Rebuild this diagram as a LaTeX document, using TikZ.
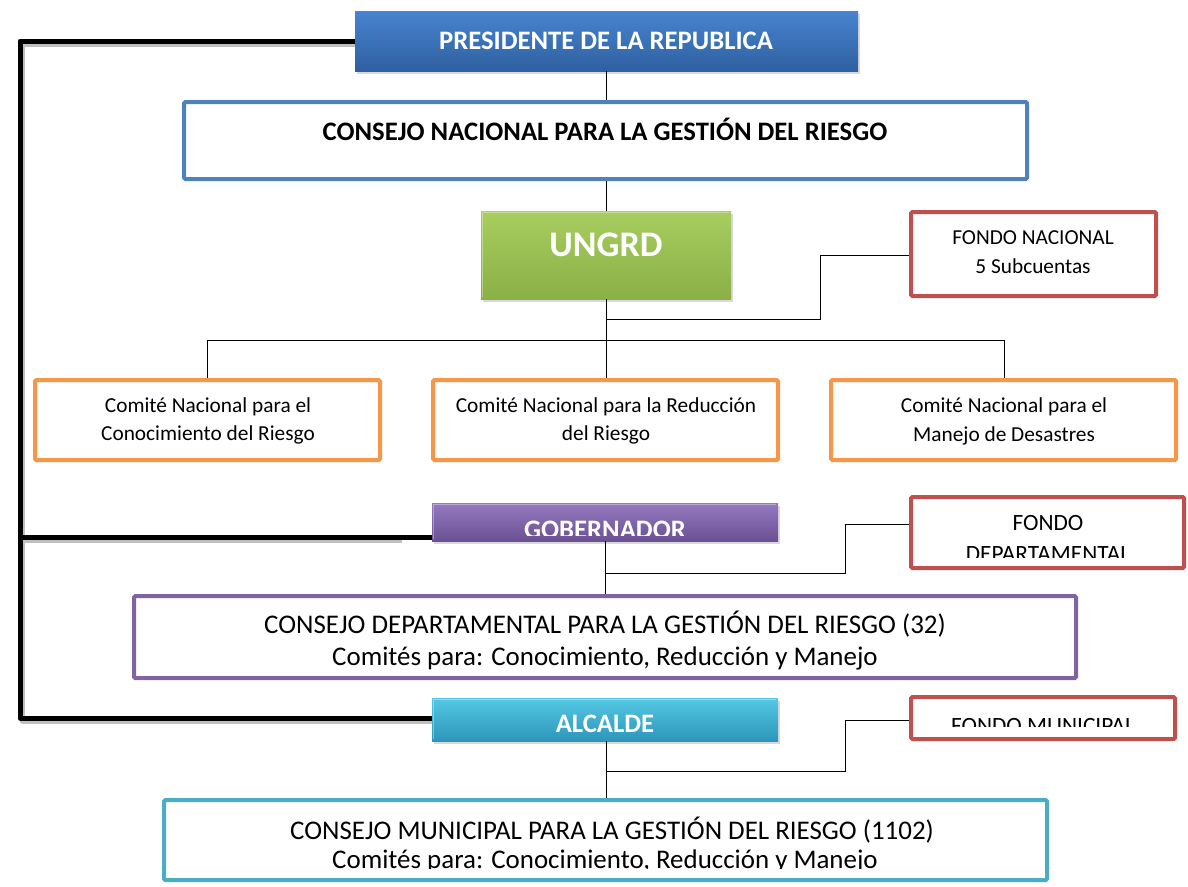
\documentclass[tikz,border=0pt]{standalone}
\usepackage{fontspec}
\setmainfont{Carlito}
\usetikzlibrary{shadows}
\definecolor{bluebd}{RGB}{79,129,189}
\definecolor{orangebd}{RGB}{247,150,70}
\definecolor{redbd}{RGB}{192,80,77}
\definecolor{purplebd}{RGB}{128,100,162}
\definecolor{cyanbd}{RGB}{75,172,198}
\definecolor{presTop}{RGB}{72,132,208}
\definecolor{presBot}{RGB}{46,96,160}
\definecolor{grnTop}{RGB}{168,206,96}
\definecolor{grnBot}{RGB}{138,176,70}
\definecolor{purTop}{RGB}{150,122,192}
\definecolor{purBot}{RGB}{108,80,148}
\definecolor{cyTop}{RGB}{86,200,228}
\definecolor{cyBot}{RGB}{44,150,186}
\begin{document}
\begin{tikzpicture}[x=0.75pt,y=-0.75pt,
  solid/.style={draw=none, rectangle, inner sep=0pt,
     drop shadow={shadow xshift=1.5pt, shadow yshift=-2pt, opacity=0.3}},
  framed/.style={rectangle, line width=3pt, fill=white, inner sep=0pt, rounded corners=1pt},
  hdr/.style={inner sep=0pt, anchor=base, font=\fontsize{20}{24}\selectfont\bfseries},
  bigtxt/.style={inner sep=0pt, anchor=base, font=\fontsize{20.2}{24}\selectfont},
  midtxt/.style={inner sep=0pt, anchor=base, font=\fontsize{17.5}{21}\selectfont},
  smalltxt/.style={inner sep=0pt, anchor=base, font=\fontsize{16}{19}\selectfont},
  thin/.style={draw=black, line width=0.75pt},
  thick/.style={draw=black, line width=3.75pt, line join=round},
  thickshadow/.style={draw=black!25, line width=3.75pt, line join=round}
]
\useasboundingbox (0,0) rectangle (1188,886);

% ---------- thick left bracket (shadow then line) ----------
\coordinate (tl) at (20,41);
\coordinate (gl) at (20,537);
\coordinate (bl) at (20,718);
\coordinate (pl) at (355,41);
\coordinate (gr) at (432,537);
\coordinate (ar) at (432,718);
\draw[thickshadow] ([shift={(2,3)}]pl) -- ([shift={(2,3)}]tl) -- ([shift={(2,3)}]bl) -- ([shift={(2,3)}]ar);
\draw[thickshadow] ([shift={(2,3)}]gl) -- ([shift={(-30,3)}]gr);
\draw[thick] (pl) -- (tl) -- (bl) -- (ar);
\draw[thick] (gl) -- (gr);

% ---------- boxes ----------
\node[solid, top color=presTop, bottom color=presBot, minimum width=377.25pt, minimum height=45pt] (pres) at (606.5,41) {};
\node[framed, draw=bluebd, minimum width=632.25pt, minimum height=57.75pt] (cnac) at (605.5,140.5) {};
\node[solid, top color=grnTop, bottom color=grnBot, minimum width=187.5pt, minimum height=66pt] (ungrd) at (606,255) {};
\node[framed, draw=redbd, minimum width=183.75pt, minimum height=63pt] (fnac) at (1033.5,254) {};
\node[framed, draw=orangebd, minimum width=258.75pt, minimum height=60pt] (c1) at (207.5,420) {};
\node[framed, draw=orangebd, minimum width=258.75pt, minimum height=60pt] (c2) at (605.5,420) {};
\node[framed, draw=orangebd, minimum width=258.75pt, minimum height=60pt] (c3) at (1003.5,420) {};
\node[solid, top color=purTop, bottom color=purBot, minimum width=259.5pt, minimum height=28.5pt] (gob) at (605,522) {};
\node[framed, draw=redbd, minimum width=204.75pt, minimum height=53.25pt] (fdep) at (1047.5,532.5) {};
\node[framed, draw=purplebd, minimum width=706.5pt, minimum height=61.5pt] (cdep) at (605,637) {};
\node[solid, top color=cyTop, bottom color=cyBot, minimum width=259.5pt, minimum height=32.25pt] (alc) at (605,719.5) {};
\node[framed, draw=redbd, minimum width=198pt, minimum height=31.5pt] (fmun) at (1043,718) {};
\node[framed, draw=cyanbd, minimum width=662.25pt, minimum height=60pt] (cmun) at (605.5,840) {};

% ---------- bevel highlights ----------
\draw[white, opacity=0.35, line width=1pt] ([shift={(2,-2)}]ungrd.south west) -- ([shift={(2,2)}]ungrd.north west) -- ([shift={(-2,2)}]ungrd.north east);
\draw[white, opacity=0.35, line width=1pt] ([shift={(2,-2)}]gob.south west) -- ([shift={(2,2)}]gob.north west) -- ([shift={(-2,2)}]gob.north east);
\draw[white, opacity=0.35, line width=1pt] ([shift={(2,-2)}]alc.south west) -- ([shift={(2,2)}]alc.north west) -- ([shift={(-2,2)}]alc.north east);

% ---------- texts ----------
\node[hdr, text=white] (tpres) at (606,49.5) {PRESIDENTE DE LA REPUBLICA};
\node[hdr] (tcnac) at (605,140) {CONSEJO NACIONAL PARA LA GESTIÓN DEL RIESGO};
\node[inner sep=0pt, anchor=base, text=white, font=\fontsize{27}{30}\selectfont\bfseries] (tungrd) at (606,256.5) {UNGRD};
\node[smalltxt] (tfn1) at (1033,244) {FONDO NACIONAL};
\node[smalltxt] (tfn2) at (1033,273) {5 Subcuentas};
\node[smalltxt] (tc1a) at (208,412) {Comité Nacional para el};
\node[smalltxt] (tc1b) at (208,440) {Conocimiento del Riesgo};
\node[smalltxt] (tc2a) at (606,412) {Comité Nacional para la Reducción};
\node[smalltxt] (tc2b) at (606,440) {del Riesgo};
\node[smalltxt] (tc3a) at (1004,412) {Comité Nacional para el};
\node[smalltxt] (tc3b) at (1004,441) {Manejo de Desastres};

\begin{scope}
  \clip (434,505) rectangle (776,535);
  \node[hdr, text=white] (tgob) at (605,538) {GOBERNADOR};
\end{scope}
\begin{scope}
  \clip (913,499) rectangle (1182,557);
  \node[midtxt] (tfd1) at (1048,530) {FONDO};
  \node[midtxt] (tfd2) at (1048,561) {DEPARTAMENTAL};
\end{scope}
\node[bigtxt] (tcd1) at (605,633) {CONSEJO DEPARTAMENTAL PARA LA GESTIÓN DEL RIESGO (32)};
\node[bigtxt] (tcd2) at (605,665) {Comités para: Conocimiento, Reducción y Manejo};
\node[hdr, text=white] (talc) at (605,732.5) {ALCALDE};
\begin{scope}
  \clip (913,699) rectangle (1173,726);
  \node[midtxt] (tfm) at (1043,733) {FONDO MUNICIPAL};
\end{scope}
\node[bigtxt] (tcm1) at (612,839) {CONSEJO MUNICIPAL PARA LA GESTIÓN DEL RIESGO (1102)};
\begin{scope}
  \clip (166,846) rectangle (1045,868);
  \node[bigtxt] (tcm2) at (605,868.5) {Comités para: Conocimiento, Reducción y Manejo};
\end{scope}

% ---------- thin connectors ----------
\coordinate (b0) at (606,340);
\coordinate (bL) at (207,340);
\coordinate (bR) at (1004,340);
\coordinate (fn1) at (606,319);
\coordinate (fn2) at (820,319);
\coordinate (fn3) at (820,255);
\coordinate (fd1) at (605,573);
\coordinate (fd2) at (845,573);
\coordinate (fd3) at (845,524);
\coordinate (fm1) at (606,771);
\coordinate (fm2) at (845,771);
\coordinate (fm3) at (845,720);

\draw[thin] (pres.south -| 606,0) -- (cnac.north -| 606,0);
\draw[thin] (cnac.south -| 606,0) -- (ungrd.north -| 606,0);
\draw[thin] (ungrd.south -| 606,0) -- (b0);
\draw[thin] (bL) -- (bR);
\draw[thin] (bL) -- (c1.north -| bL);
\draw[thin] (b0) -- (c2.north -| b0);
\draw[thin] (bR) -- (c3.north -| bR);
\draw[thin] (fn1) -- (fn2) -- (fn3) -- (fnac.west |- fn3);
\draw[thin] (gob.south -| fd1) -- (cdep.north -| fd1);
\draw[thin] (fd1) -- (fd2) -- (fd3) -- (fdep.west |- fd3);
\draw[thin] (alc.south -| fm1) -- (cmun.north -| fm1);
\draw[thin] (fm1) -- (fm2) -- (fm3) -- (fmun.west |- fm3);
\end{tikzpicture}
\end{document}
